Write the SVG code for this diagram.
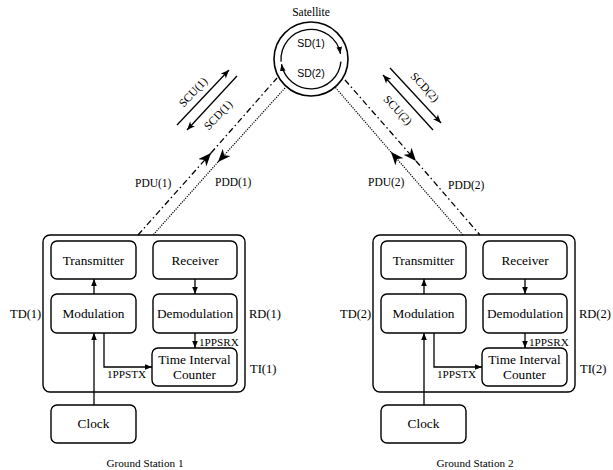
<svg xmlns="http://www.w3.org/2000/svg" width="613" height="470" viewBox="0 0 613 470">
<style>
  .box { fill: #fff; stroke: #000; stroke-width: 1.4; }
  .outer { fill: none; stroke: #000; stroke-width: 1.4; }
  .t { font-family: "Liberation Serif", "Times New Roman", serif; font-size: 13.3px; fill: #000; text-anchor: middle; }
  .s { font-family: "Liberation Serif", "Times New Roman", serif; font-size: 12.5px; fill: #000; }
  .sm { font-family: "Liberation Serif", "Times New Roman", serif; font-size: 11.2px; fill: #000; }
  .lab { font-family: "Liberation Serif", "Times New Roman", serif; font-size: 11.5px; fill: #000; }
  .sd { font-family: "Liberation Sans", Arial, sans-serif; font-size: 10.5px; fill: #000; text-anchor: middle; }
  .ln { fill: none; stroke: #000; stroke-width: 1.3; }
  .dd { fill: none; stroke: #000; stroke-width: 1.3; stroke-dasharray: 6 3 1.5 3; }
  .dt { fill: none; stroke: #000; stroke-width: 1.2; stroke-dasharray: 1.2 1.2; }
</style>
<defs>
  <marker id="tri" viewBox="0 0 10 10" refX="10" refY="5" markerWidth="7" markerHeight="7" markerUnits="userSpaceOnUse" orient="auto">
    <path d="M0,1 L10,5 L0,9 z" fill="#000"/>
  </marker>
  <marker id="barb" viewBox="0 0 12 10" refX="12" refY="5" markerWidth="13" markerHeight="11" markerUnits="userSpaceOnUse" orient="auto">
    <path d="M0,0 L12,5 L0,10 L3.5,5 z" fill="#000"/>
  </marker>
  <marker id="sc" viewBox="0 0 12 10" refX="12" refY="5" markerWidth="9" markerHeight="7" markerUnits="userSpaceOnUse" orient="auto">
    <path d="M0,0 L12,5 L0,10 L3,5 z" fill="#000"/>
  </marker>
</defs>

<!-- Satellite -->
<g id="satellite">
  <text class="s" x="311" y="16" text-anchor="middle" style="font-size:11.5px">Satellite</text>
  <circle cx="311" cy="59" r="37" fill="#fff" stroke="#000" stroke-width="1.6"/>
  <path class="ln" d="M281.1,61.6 A30,30 0 0 1 340.5,53.8" marker-end="url(#tri)"/>
  <path class="ln" d="M340.9,61.6 A30,30 0 0 1 281.5,64.2" marker-end="url(#tri)"/>
  <text class="sd" x="311" y="47">SD(1)</text>
  <text class="sd" x="311" y="77">SD(2)</text>
</g>

<!-- Connectors -->
<g id="connectors">
  <!-- station 1 links -->
  <path class="dd" d="M138,235 L211,153" marker-end="url(#barb)"/>
  <path class="dd" d="M211,153 L277,78"/>
  <path class="dt" d="M285,88 L218,162" marker-end="url(#barb)"/>
  <path class="dt" d="M218,162 L153,235"/>
  <!-- station 2 links -->
  <path class="dt" d="M463,235 L391,152" marker-end="url(#barb)"/>
  <path class="dt" d="M391,152 L335,87"/>
  <path class="dd" d="M345,80 L416,161" marker-end="url(#barb)"/>
  <path class="dd" d="M416,161 L480,235"/>
  <!-- SC arrows -->
  <path class="ln" d="M177,125 L229,70" marker-end="url(#sc)"/>
  <path class="ln" d="M237,76 L187,130" marker-end="url(#sc)"/>
  <path class="ln" d="M390,68 L441,123" marker-end="url(#sc)"/>
  <path class="ln" d="M433,130 L383,75" marker-end="url(#sc)"/>
  <!-- station 1 internal -->
  <path class="ln" d="M94,294 L94,279" marker-end="url(#tri)"/>
  <path class="ln" d="M195,279 L195,294" marker-end="url(#tri)"/>
  <path class="ln" d="M195,333 L195,348" marker-end="url(#tri)"/>
  <path class="ln" d="M94,405 L94,333" marker-end="url(#tri)"/>
  <path class="ln" d="M104,333 L104,367 L152,367" marker-end="url(#tri)"/>
  <!-- station 2 internal -->
  <path class="ln" d="M424,294 L424,279" marker-end="url(#tri)"/>
  <path class="ln" d="M525,279 L525,294" marker-end="url(#tri)"/>
  <path class="ln" d="M525,333 L525,348" marker-end="url(#tri)"/>
  <path class="ln" d="M424,405 L424,333" marker-end="url(#tri)"/>
  <path class="ln" d="M434,333 L434,367 L482,367" marker-end="url(#tri)"/>
</g>

<!-- Link labels -->
<g id="link-labels">
  <text class="lab" transform="translate(193,92) rotate(-47)" y="4" text-anchor="middle">SCU(1)</text>
  <text class="lab" transform="translate(218,115) rotate(-47)" y="4" text-anchor="middle">SCD(1)</text>
  <text class="lab" transform="translate(425,87) rotate(47)" y="4" text-anchor="middle">SCD(2)</text>
  <text class="lab" transform="translate(398,110) rotate(47)" y="4" text-anchor="middle">SCU(2)</text>
  <text class="lab" x="135" y="187">PDU(1)</text>
  <text class="lab" x="215" y="186">PDD(1)</text>
  <text class="lab" x="368" y="186">PDU(2)</text>
  <text class="lab" x="448" y="189">PDD(2)</text>
</g>

<!-- Ground Station 1 -->
<g id="station1">
  <rect class="outer" x="43" y="235" width="202" height="157" rx="7"/>
  <text class="s" x="10" y="318">TD(1)</text>
  <text class="s" x="249" y="318">RD(1)</text>
  <text class="s" x="250" y="373">TI(1)</text>
  <text class="sm" x="199" y="346">1PPSRX</text>
  <text class="sm" x="107" y="378">1PPSTX</text>
  <text class="sm" x="145" y="467" text-anchor="middle">Ground Station 1</text>
</g>
<g id="transmitter1"><rect class="box" x="51" y="241" width="85" height="38" rx="6"/><text class="t" x="93.5" y="265">Transmitter</text></g>
<g id="receiver1"><rect class="box" x="153" y="241" width="84" height="38" rx="6"/><text class="t" x="195" y="265">Receiver</text></g>
<g id="modulation1"><rect class="box" x="51" y="294" width="85" height="39" rx="6"/><text class="t" x="93.5" y="318">Modulation</text></g>
<g id="demodulation1"><rect class="box" x="153" y="294" width="84" height="39" rx="6"/><text class="t" x="195" y="318">Demodulation</text></g>
<g id="tic1"><rect class="box" x="152" y="348" width="85" height="38" rx="6"/><text class="t" x="194.5" y="364">Time Interval</text><text class="t" x="194.5" y="379">Counter</text></g>
<g id="clock1"><rect class="box" x="51" y="405" width="85" height="38" rx="6"/><text class="t" x="93.5" y="428">Clock</text></g>

<!-- Ground Station 2 -->
<g id="station2">
  <rect class="outer" x="373" y="235" width="202" height="157" rx="7"/>
  <text class="s" x="340" y="318">TD(2)</text>
  <text class="s" x="579" y="318">RD(2)</text>
  <text class="s" x="580" y="373">TI(2)</text>
  <text class="sm" x="529" y="346">1PPSRX</text>
  <text class="sm" x="437" y="378">1PPSTX</text>
  <text class="sm" x="475" y="467" text-anchor="middle">Ground Station 2</text>
</g>
<g id="transmitter2"><rect class="box" x="381" y="241" width="85" height="38" rx="6"/><text class="t" x="423.5" y="265">Transmitter</text></g>
<g id="receiver2"><rect class="box" x="483" y="241" width="84" height="38" rx="6"/><text class="t" x="525" y="265">Receiver</text></g>
<g id="modulation2"><rect class="box" x="381" y="294" width="85" height="39" rx="6"/><text class="t" x="423.5" y="318">Modulation</text></g>
<g id="demodulation2"><rect class="box" x="483" y="294" width="84" height="39" rx="6"/><text class="t" x="525" y="318">Demodulation</text></g>
<g id="tic2"><rect class="box" x="482" y="348" width="85" height="38" rx="6"/><text class="t" x="524.5" y="364">Time Interval</text><text class="t" x="524.5" y="379">Counter</text></g>
<g id="clock2"><rect class="box" x="381" y="405" width="85" height="38" rx="6"/><text class="t" x="423.5" y="428">Clock</text></g>
</svg>
